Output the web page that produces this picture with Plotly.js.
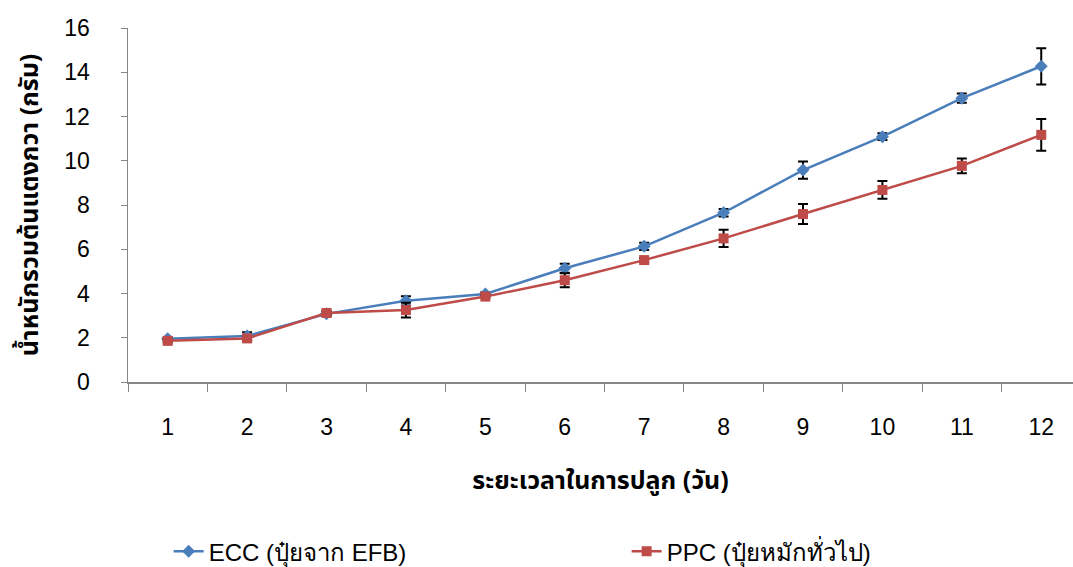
<!DOCTYPE html>
<html><head><meta charset="utf-8">
<script src="https://cdn.plot.ly/plotly-3.0.1.min.js"></script>
<style>html,body{margin:0;padding:0;background:#fff}#c{width:1073px;height:567px}</style>
</head><body><div id="c"></div>
<script>
const days = ["1","2","3","4","5","6","7","8","9","10","11","12"];
const eccValues = [1.95, 2.08, 3.08, 3.67, 3.98, 5.14, 6.13, 7.65, 9.58, 11.09, 12.83, 14.27];
const eccErrors = [0.06, 0.17, 0.1, 0.21, 0.08, 0.2, 0.16, 0.17, 0.39, 0.15, 0.21, 0.82];
const ppcValues = [1.86, 1.97, 3.12, 3.25, 3.86, 4.6, 5.51, 6.49, 7.59, 8.68, 9.77, 11.17];
const ppcErrors = [0.06, 0.1, 0.1, 0.33, 0.06, 0.32, 0.1, 0.39, 0.45, 0.4, 0.33, 0.72];
const seriesNames = ["ECC (ปุ๋ยจาก EFB)", "PPC (ปุ๋ยหมักทั่วไป)"];
const xTitle = "ระยะเวลาในการปลูก (วัน)";
const yTitle = "น้ำหนักรวมต้นแตงกวา (กรัม)";

const thaiFont = "Tahoma, 'Noto Sans Thai', 'Noto Sans', 'DejaVu Sans', sans-serif";
const tickFontFam = "'Liberation Sans', Arial, sans-serif";

const errStyle = {type:'data', visible:true, color:'#000', thickness:2, width:5};
const traces = [
  {x: days, y: eccValues, name: seriesNames[0], type:'scatter', mode:'lines+markers',
   line:{color:'#4a7ebb', width:2.5}, marker:{symbol:'diamond', size:10, color:'#4a7ebb'},
   error_y: Object.assign({array: eccErrors}, errStyle)},
  {x: days, y: ppcValues, name: seriesNames[1], type:'scatter', mode:'lines+markers',
   line:{color:'#be4b48', width:2.5}, marker:{symbol:'square', size:10, color:'#be4b48'},
   error_y: Object.assign({array: ppcErrors}, errStyle)}
];

const layout = {
  width:1073, height:567,
  margin:{l:128, r:0, t:28, b:185, autoexpand:false},
  paper_bgcolor:'#fff', plot_bgcolor:'#fff',
  showlegend:true,
  legend:{orientation:'h', x:0.043, xanchor:'left', yref:'container', y:0.027, yanchor:'middle',
          font:{family:tickFontFam, size:24, color:'#000'}, entrywidth:413, entrywidthmode:'pixels'},
  xaxis:{type:'category', range:[-0.5, 11.4], showline:true, linecolor:'#868686', linewidth:1.5,
         ticks:'outside', tickson:'boundaries', ticklen:8, tickcolor:'#868686', tickwidth:1,
         showgrid:false, zeroline:false, ticklabelstandoff:24, automargin:false,
         tickfont:{family:tickFontFam, size:23, color:'#000'},
         title:{text:xTitle, font:{family:thaiFont, size:25, color:'#000', weight:'bold'}, standoff:32}},
  yaxis:{range:[0,16], dtick:2, showline:true, linecolor:'#868686', linewidth:1.5,
         ticks:'outside', ticklen:6, tickcolor:'#868686', tickwidth:1,
         showgrid:false, zeroline:false, ticklabelstandoff:26, automargin:false,
         tickfont:{family:tickFontFam, size:23, color:'#000'},
         title:{text:yTitle, font:{family:thaiFont, size:25, color:'#000', weight:'bold'}, standoff:18}}
};
Plotly.newPlot('c', traces, layout, {displayModeBar:false, staticPlot:true});
</script></body></html>
